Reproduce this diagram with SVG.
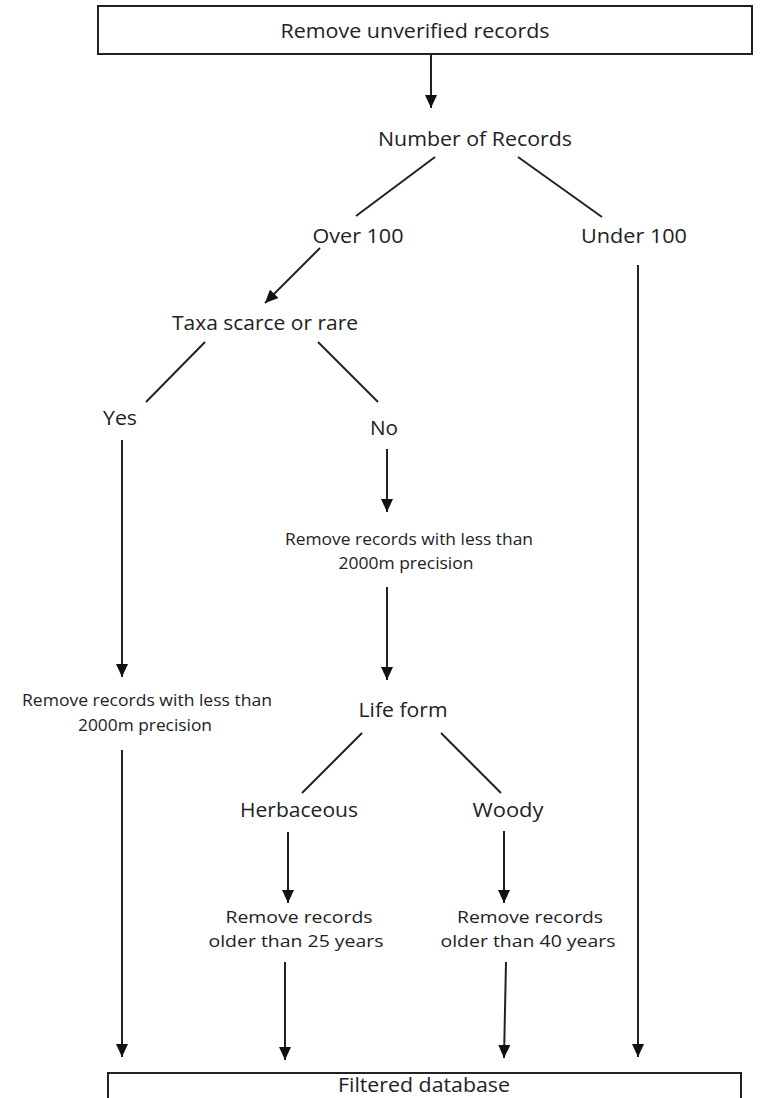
<svg xmlns="http://www.w3.org/2000/svg" width="764" height="1098" viewBox="0 0 764 1098">
<style>
.bg{fill:#ffffff}
.box{fill:#ffffff;stroke:#222;stroke-width:2}
.t{font-family:"Open Sans","Liberation Sans",sans-serif;fill:#222;text-anchor:middle}
.m{font-size:19.5px}
.s{font-size:16.5px}
.c{stroke:#222;stroke-width:2;fill:none}
.a{marker-end:url(#ah)}
</style>
<defs>
<marker id="ah" markerUnits="userSpaceOnUse" viewBox="0 0 13 12" refX="13" refY="6" markerWidth="13" markerHeight="12" orient="auto">
<path d="M0,0 L13,6 L0,12 z" fill="#111"/>
</marker>
</defs>
<rect class="bg" x="0" y="0" width="764" height="1098"/>
<g id="connectors">
<line class="c a" x1="431" y1="54" x2="431" y2="108"/>
<line class="c" x1="435" y1="157" x2="356" y2="216"/>
<line class="c" x1="518" y1="157" x2="602" y2="217"/>
<line class="c a" x1="320" y1="248" x2="265" y2="303"/>
<line class="c" x1="205" y1="342" x2="146" y2="402"/>
<line class="c" x1="318" y1="342" x2="378" y2="402"/>
<line class="c a" x1="122" y1="440" x2="122" y2="677"/>
<line class="c a" x1="387" y1="449" x2="387" y2="512"/>
<line class="c a" x1="387" y1="587" x2="387" y2="680"/>
<line class="c" x1="362" y1="733" x2="302" y2="793"/>
<line class="c" x1="441" y1="733" x2="501" y2="793"/>
<line class="c a" x1="288" y1="832" x2="288" y2="903"/>
<line class="c a" x1="504" y1="831" x2="504" y2="903"/>
<line class="c a" x1="122" y1="750" x2="122" y2="1057"/>
<line class="c a" x1="285" y1="962" x2="285" y2="1060"/>
<line class="c a" x1="506" y1="962" x2="504" y2="1058"/>
<line class="c a" x1="638" y1="265" x2="638" y2="1057"/>
</g>
<g id="n-remove-unverified">
<rect class="box" x="98" y="6" width="654" height="48"/>
<text class="t m" x="415" y="38" textLength="269" lengthAdjust="spacingAndGlyphs">Remove unverified records</text>
</g>
<g id="n-number-of-records">
<text class="t m" x="475" y="146" textLength="194" lengthAdjust="spacingAndGlyphs">Number of Records</text>
</g>
<g id="n-over-100">
<text class="t m" x="358" y="243" textLength="91" lengthAdjust="spacingAndGlyphs">Over 100</text>
</g>
<g id="n-under-100">
<text class="t m" x="634" y="243" textLength="106" lengthAdjust="spacingAndGlyphs">Under 100</text>
</g>
<g id="n-taxa">
<text class="t m" x="265" y="330" textLength="186" lengthAdjust="spacingAndGlyphs">Taxa scarce or rare</text>
</g>
<g id="n-yes">
<text class="t m" x="120" y="425" textLength="34" lengthAdjust="spacingAndGlyphs">Yes</text>
</g>
<g id="n-no">
<text class="t m" x="384" y="435" textLength="28" lengthAdjust="spacingAndGlyphs">No</text>
</g>
<g id="n-precision-no">
<text class="t s" x="409" y="545" textLength="248" lengthAdjust="spacingAndGlyphs">Remove records with less than</text>
<text class="t s" x="406" y="569" textLength="135" lengthAdjust="spacingAndGlyphs">2000m precision</text>
</g>
<g id="n-precision-yes">
<text class="t s" x="147" y="706" textLength="250" lengthAdjust="spacingAndGlyphs">Remove records with less than</text>
<text class="t s" x="145" y="731" textLength="134" lengthAdjust="spacingAndGlyphs">2000m precision</text>
</g>
<g id="n-life-form">
<text class="t m" x="403" y="717" textLength="89" lengthAdjust="spacingAndGlyphs">Life form</text>
</g>
<g id="n-herbaceous">
<text class="t m" x="299" y="817" textLength="118" lengthAdjust="spacingAndGlyphs">Herbaceous</text>
</g>
<g id="n-woody">
<text class="t m" x="508" y="817" textLength="71" lengthAdjust="spacingAndGlyphs">Woody</text>
</g>
<g id="n-older-25">
<text class="t s" x="299" y="923" textLength="147" lengthAdjust="spacingAndGlyphs">Remove records</text>
<text class="t s" x="296" y="947" textLength="175" lengthAdjust="spacingAndGlyphs">older than 25 years</text>
</g>
<g id="n-older-40">
<text class="t s" x="530" y="923" textLength="146" lengthAdjust="spacingAndGlyphs">Remove records</text>
<text class="t s" x="528" y="947" textLength="175" lengthAdjust="spacingAndGlyphs">older than 40 years</text>
</g>
<g id="n-filtered">
<rect class="box" x="108" y="1073" width="633" height="40"/>
<text class="t m" x="424" y="1092" textLength="172" lengthAdjust="spacingAndGlyphs">Filtered database</text>
</g>
</svg>
